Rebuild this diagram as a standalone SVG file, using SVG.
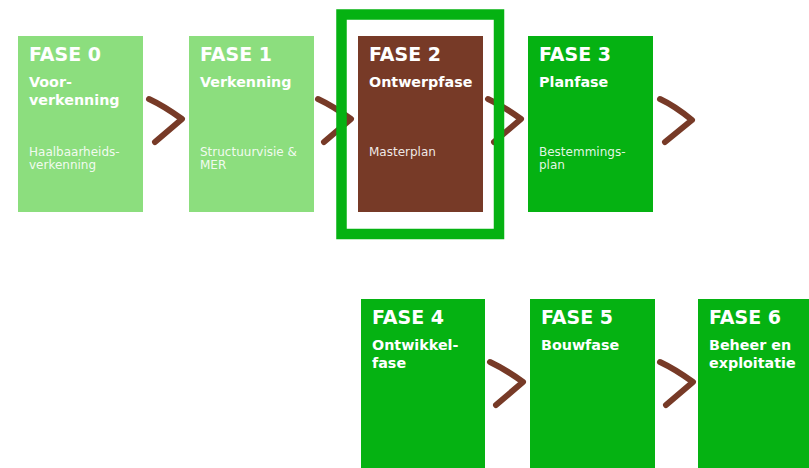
<svg xmlns="http://www.w3.org/2000/svg" width="809" height="468" viewBox="0 0 809 468">
<style>
.lg{fill:#8CDE7E}
.g{fill:#05B212}
.br{fill:#773A27}
.t{font-family:"DejaVu Sans","Liberation Sans",sans-serif;font-weight:bold;font-size:19px;fill:#ffffff}
.s{font-family:"DejaVu Sans","Liberation Sans",sans-serif;font-weight:bold;font-size:14.3px;fill:#ffffff}
.d{font-family:"DejaVu Sans","Liberation Sans",sans-serif;font-size:12px;fill:#ffffff;fill-opacity:0.9}
.arr{fill:none;stroke:#773A27;stroke-width:6;stroke-linecap:round;stroke-linejoin:round}
</style>
<rect width="809" height="468" fill="#ffffff"/>
<g id="connectors">
<path class="arr" d="M149,99 Q164,106 182,119 L155,142"/>
<path class="arr" d="M318,99 Q333,106 351,119 L324,142"/>
<path class="arr" d="M488,99 Q503,106 521,119 L494,142"/>
<path class="arr" d="M660,99 Q675,106 692,120 L665,142"/>
<path class="arr" d="M490,362 Q505,369 523,382 L496,405"/>
<path class="arr" d="M660,362 Q675,369 693,382 L666,405"/>
</g>
<g id="fase0">
<rect class="lg" x="18" y="36" width="125" height="176"/>
<text class="t" x="29" y="61">FASE 0</text>
<text class="s" x="29" y="87">Voor-</text>
<text class="s" x="29" y="105">verkenning</text>
<text class="d" x="29" y="156">Haalbaarheids-</text>
<text class="d" x="29" y="169">verkenning</text>
</g>
<g id="fase1">
<rect class="lg" x="189" y="36" width="125" height="176"/>
<text class="t" x="200" y="61">FASE 1</text>
<text class="s" x="200" y="87">Verkenning</text>
<text class="d" x="200" y="156">Structuurvisie &amp;</text>
<text class="d" x="200" y="169">MER</text>
</g>
<g id="fase2">
<rect class="br" x="358" y="36" width="125" height="176"/>
<text class="t" x="369" y="61">FASE 2</text>
<text class="s" x="369" y="87">Ontwerpfase</text>
<text class="d" x="369" y="156">Masterplan</text>
<rect x="341.5" y="14.5" width="157.5" height="219.5" fill="none" stroke="#05B212" stroke-width="10.5"/>
</g>
<g id="fase3">
<rect class="g" x="528" y="36" width="125" height="176"/>
<text class="t" x="539" y="61">FASE 3</text>
<text class="s" x="539" y="87">Planfase</text>
<text class="d" x="539" y="156">Bestemmings-</text>
<text class="d" x="539" y="169">plan</text>
</g>
<g id="fase4">
<rect class="g" x="361" y="299" width="124" height="169"/>
<text class="t" x="372" y="324">FASE 4</text>
<text class="s" x="372" y="350">Ontwikkel-</text>
<text class="s" x="372" y="368">fase</text>
</g>
<g id="fase5">
<rect class="g" x="530" y="299" width="125" height="169"/>
<text class="t" x="541" y="324">FASE 5</text>
<text class="s" x="541" y="350">Bouwfase</text>
</g>
<g id="fase6">
<rect class="g" x="698" y="299" width="111" height="169"/>
<text class="t" x="709" y="324">FASE 6</text>
<text class="s" x="709" y="350">Beheer en</text>
<text class="s" x="709" y="368">exploitatie</text>
</g>
</svg>
